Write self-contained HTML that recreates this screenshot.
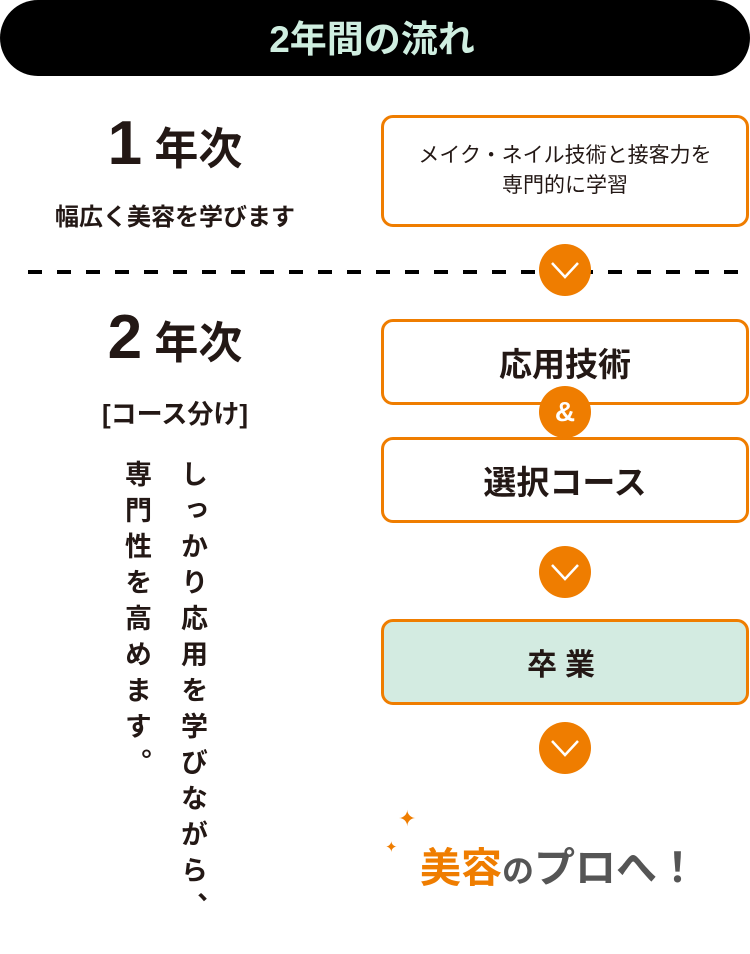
<!DOCTYPE html><html><head><meta charset="utf-8"><style>
body{margin:0;width:750px;height:954px;background:#fff;position:relative;overflow:hidden;font-family:"Liberation Sans","Noto Sans CJK JP",sans-serif;color:#231815}
.a{position:absolute}
.hd{left:0;top:0;width:750px;height:76px;background:#000;border-radius:38px;color:#cfeee0;font-size:37px;font-weight:bold;text-align:center;line-height:80px;text-indent:-6px}
.box{position:absolute;left:381px;width:362px;border:3px solid #ef7d00;border-radius:12px;background:#fff;text-align:center;font-weight:bold;display:flex;align-items:center;justify-content:center}
.c{position:absolute;left:539px;width:52px;height:52px;border-radius:50%;background:#ef7d00;color:#fff;text-align:center}
.vt{writing-mode:vertical-rl;font-size:27px;font-weight:bold;letter-spacing:9px;line-height:1}
</style></head><body>
<div class="a hd">2年間の流れ</div>
<div class="a" style="left:0;width:350px;top:108px;text-align:center;font-weight:bold;font-size:44px"><span style="font-size:62px">1</span> 年次</div>
<div class="a" style="left:0;width:350px;top:197px;text-align:center;font-weight:bold;font-size:24px">幅広く美容を学びます</div>
<div class="a" style="left:28px;top:270px;width:712px;height:4px;background:repeating-linear-gradient(90deg,#000 0 14px,transparent 14px 29px)"></div>
<div class="box" style="top:115px;height:106px;font-weight:normal;font-size:21px;line-height:30px">メイク・ネイル技術と接客力を<br>専門的に学習</div>
<div class="c" style="top:244px"><svg width="52" height="52"><path d="M13 19 L26 33 L39 19" stroke="#fff" stroke-width="2.5" fill="none"/></svg></div>
<div class="a" style="left:0;width:350px;top:302px;text-align:center;font-weight:bold;font-size:44px"><span style="font-size:62px">2</span> 年次</div>
<div class="a" style="left:0;width:350px;top:394px;text-align:center;font-weight:bold;font-size:26px">[コース分け]</div>
<div class="a vt" style="left:178px;top:460px">しっかり応用を学びながら、</div>
<div class="a vt" style="left:122px;top:460px">専門性を高めます。</div>
<div class="box" style="top:319px;height:80px;font-size:33px">応用技術</div>
<div class="box" style="top:437px;height:80px;font-size:33px">選択コース</div>
<div class="c" style="top:386px;font-size:28px;font-weight:bold;line-height:52px">&amp;</div>
<div class="c" style="top:546px"><svg width="52" height="52"><path d="M13 19 L26 33 L39 19" stroke="#fff" stroke-width="2.5" fill="none"/></svg></div>
<div class="box" style="top:619px;height:80px;font-size:30px;background:#d3ebe1;letter-spacing:8px">卒業</div>
<div class="c" style="top:722px"><svg width="52" height="52"><path d="M13 19 L26 33 L39 19" stroke="#fff" stroke-width="2.5" fill="none"/></svg></div>
<div class="a" style="left:420px;top:834px;font-size:41px;font-weight:bold;color:#555;white-space:nowrap"><span style="color:#ef7d00">美容</span><span style="font-size:32px">の</span>プロへ！</div>
<div class="a" style="left:398px;top:806px;color:#ef7d00;font-size:22px">✦</div>
<div class="a" style="left:385px;top:838px;color:#ef7d00;font-size:15px">✦</div>
</body></html>
